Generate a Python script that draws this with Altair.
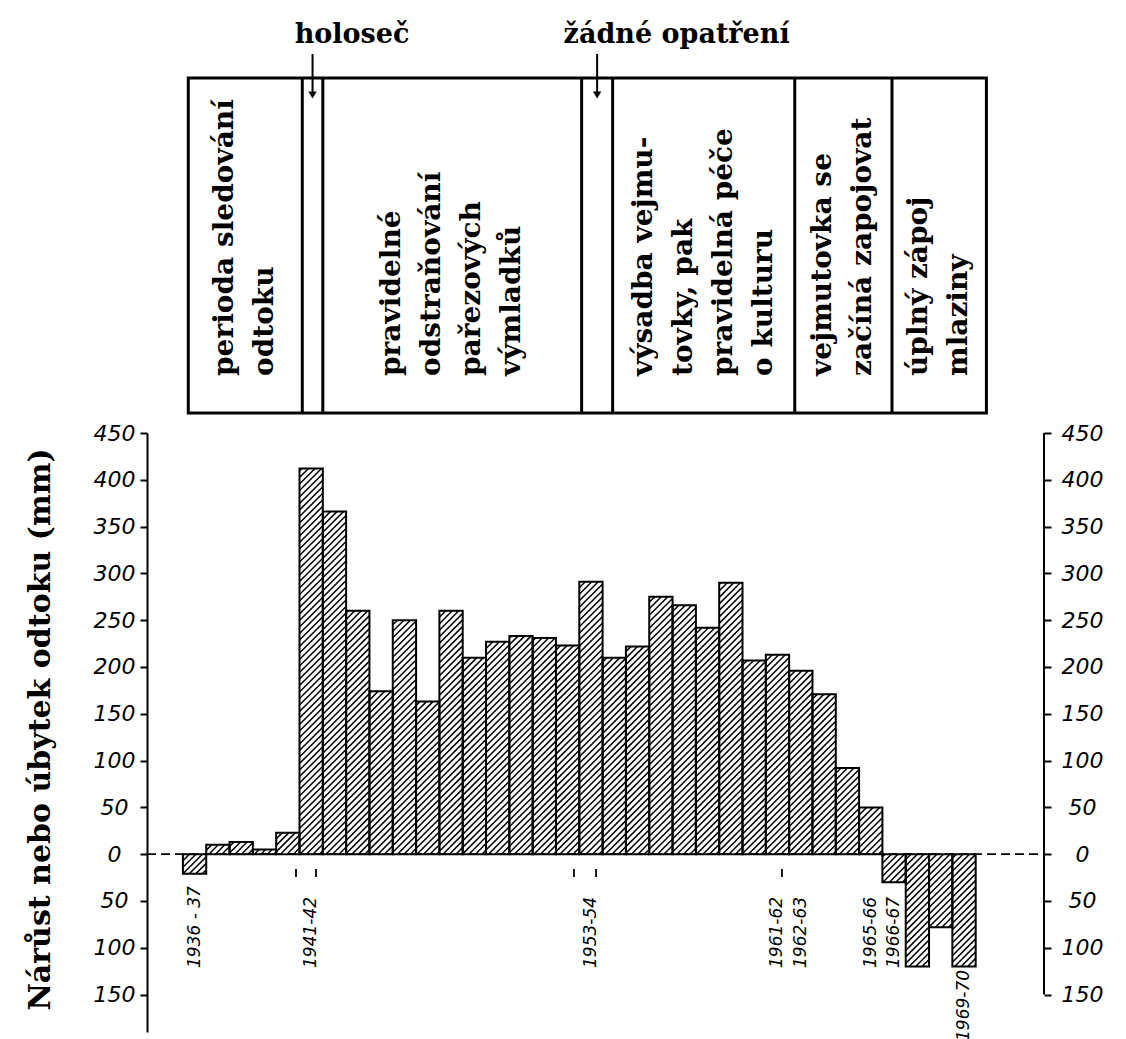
import math
import altair as alt
import numpy as np
import pandas as pd

# ---------------- data ----------------
years = ["1936-37", "1937-38", "1938-39", "1939-40", "1940-41", "1941-42",
         "1942-43", "1943-44", "1944-45", "1945-46", "1946-47", "1947-48",
         "1948-49", "1949-50", "1950-51", "1951-52", "1952-53", "1953-54",
         "1954-55", "1955-56", "1956-57", "1957-58", "1958-59", "1959-60",
         "1960-61", "1961-62", "1962-63", "1963-64", "1964-65", "1965-66",
         "1966-67", "1967-68", "1968-69", "1969-70"]
values = [-21, 10, 13, 5, 23, 412, 366, 260, 174, 250, 163, 260,
          210, 227, 233, 231, 223, 291, 210, 222, 275, 266, 242, 290,
          207, 213, 196, 171, 92, 50, -30, -120, -78, -120]

x_label_years = ["1936-37", "1941-42", "1953-54", "1961-62", "1962-63",
                 "1965-66", "1966-67"]
x_label_texts = ["1936 - 37", "1941-42", "1953-54", "1961-62", "1962-63",
                 "1965-66", "1966-67"]
last_label_year = "1969-70"
last_label_text = "1969-70"

tick_values = [-150, -100, -50, 0, 50, 100, 150, 200, 250, 300, 350, 400, 450]
y_title = "Nárůst nebo úbytek odtoku (mm)"

# period table (boundaries in bar units)
period_bounds = [0.23, 5.12, 6.0, 17.1, 18.43, 26.24, 30.41, 34.46]
period_lines = [
    ["perioda sledování", "odtoku"],
    [],
    ["pravidelné", "odstraňování", "pařezových", "výmladků"],
    [],
    ["výsadba vejmu-", "tovky, pak", "pravidelná péče", "o kulturu"],
    ["vejmutovka se", "začíná zapojovat"],
    ["úplný zápoj", "mlaziny"],
]
headings = ["holoseč", "žádné opatření"]
heading_periods = [1, 3]
marker_positions = [4.85, 5.71, 16.77, 17.72, 25.69]

# ---------------- layout constants ----------------
X_MIN, X_MAX = -1.54, 36.93
Y_MIN, Y_MAX = -190, 450
W, H = 897, 599
TOP_H = 404
pxu = W / (X_MAX - X_MIN)
pyu = H / (Y_MAX - Y_MIN)
LINE_PX = 40
heading_shift_px = [39.5, 79.5]

xs = alt.Scale(domain=[X_MIN, X_MAX], nice=False, zero=False)
ys = alt.Scale(domain=[Y_MIN, Y_MAX], nice=False, zero=False)

n = len(values)
bars = pd.DataFrame({"year": years, "x0": np.arange(n), "x1": np.arange(n) + 1,
                     "val": values, "zero": [0] * n})

# hatch segments derived from the bars
spacing, slope = 6.5, 1.0
segs = []
for i, v in enumerate(values):
    xa, xb = i * pxu, (i + 1) * pxu
    ya, yb = min(0, v) * pyu, max(0, v) * pyu
    kmin = math.ceil((ya - slope * xb) / spacing)
    kmax = math.floor((yb - slope * xa) / spacing)
    for k in range(kmin, kmax + 1):
        c = k * spacing
        s0 = max(xa, (ya - c) / slope)
        s1 = min(xb, (yb - c) / slope)
        if s1 - s0 > 0.3:
            segs.append({"hx": s0 / pxu, "hy": (slope * s0 + c) / pyu,
                         "hx2": s1 / pxu, "hy2": (slope * s1 + c) / pyu})
hatch = pd.DataFrame(segs)

idx = {y: i for i, y in enumerate(years)}
labels_df = pd.DataFrame({"t": x_label_texts,
                          "xc": [idx[y] + 0.5 for y in x_label_years]})
last_df = pd.DataFrame({"t": [last_label_text], "xc": [idx[last_label_year] + 0.5]})
markers_df = pd.DataFrame({"mx": marker_positions})
zero_df = pd.DataFrame({"x0": [X_MIN], "x1": [X_MAX], "y": [0]})
raxis_df = pd.DataFrame({"x": [X_MAX], "y0": [-150], "y1": [450]})

# ---------------- bottom panel ----------------
left_axis = alt.Axis(
    orient="left", values=tick_values, labelExpr="'' + abs(datum.value)",
    title=y_title, titleFont="DejaVu Serif", titleFontWeight="bold",
    titleFontSize=30, titleAngle=270, titleX=-107, titleY=296,
    titleAlign="center", titleBaseline="middle", titleColor="black",
    labelFont="DejaVu Sans", labelFontStyle="italic", labelFontSize=22,
    labelAlign="center", labelBaseline="middle", labelPadding=26,
    labelColor="black", labelOverlap=False,
    tickSize=7, tickWidth=2, tickColor="black",
    domainWidth=2, domainColor="black", grid=False)
right_axis = alt.Axis(
    orient="right", values=tick_values, labelExpr="'' + abs(datum.value)",
    title=None, labelFont="DejaVu Sans", labelFontStyle="italic",
    labelFontSize=22, labelAlign="center", labelBaseline="middle",
    labelPadding=31, labelColor="black", labelOverlap=False,
    tickSize=7, tickWidth=2, tickColor="black", domain=False, grid=False)

zero_line = alt.Chart(zero_df).mark_rule(
    strokeDash=[9, 5], strokeWidth=1.6, color="black").encode(
    x=alt.X("x0:Q", scale=xs, axis=None), x2="x1:Q",
    y=alt.Y("y:Q", scale=ys, axis=None))

hatch_layer = alt.Chart(hatch).mark_rule(strokeWidth=1.5, color="black").encode(
    x=alt.X("hx:Q", scale=xs, axis=None), x2="hx2:Q",
    y=alt.Y("hy:Q", scale=ys, axis=None), y2="hy2:Q")

bar_layer = alt.Chart(bars).mark_rect(
    fillOpacity=0, stroke="black", strokeWidth=2).encode(
    x=alt.X("x0:Q", scale=xs, axis=None), x2="x1:Q",
    y=alt.Y("val:Q", scale=ys, axis=left_axis), y2="zero:Q")

raxis_layer = alt.Chart(raxis_df).mark_rule(strokeWidth=2, color="black").encode(
    x=alt.X("x:Q", scale=xs, axis=None),
    y=alt.Y("y0:Q", scale=ys, axis=right_axis), y2="y1:Q")

label_style = dict(angle=270, align="left", baseline="middle",
                   font="DejaVu Sans", fontStyle="italic", fontSize=17,
                   color="black", dx=0)
xlabels = alt.Chart(labels_df).mark_text(**label_style).encode(
    x=alt.X("xc:Q", scale=xs, axis=None), y=alt.value(535), text="t:N")
xlabel_last = alt.Chart(last_df).mark_text(**label_style).encode(
    x=alt.X("xc:Q", scale=xs, axis=None), y=alt.value(608), text="t:N")
markers = alt.Chart(markers_df).mark_rule(strokeWidth=1.8, color="black").encode(
    x=alt.X("mx:Q", scale=xs, axis=None), y=alt.value(436), y2=alt.value(444))

bottom = alt.layer(zero_line, hatch_layer, bar_layer, raxis_layer,
                   xlabels, xlabel_last, markers).resolve_axis(
    y="independent").properties(width=W, height=H)

# ---------------- top panel (period table) ----------------
TAB_TOP, TAB_BOT = 67, 402
box_df = pd.DataFrame({"x0": [period_bounds[0]], "x1": [period_bounds[-1]]})
sep_df = pd.DataFrame({"bx": period_bounds[1:-1]})
rows = []
for p, lines in enumerate(period_lines):
    if not lines:
        continue
    center = (period_bounds[p] + period_bounds[p + 1]) / 2
    for j, t in enumerate(lines):
        rows.append({"t": t,
                     "tx": center + (j - (len(lines) - 1) / 2) * LINE_PX / pxu})
text_df = pd.DataFrame(rows)
arrow_x = [(period_bounds[p] + period_bounds[p + 1]) / 2 for p in heading_periods]
arrow_df = pd.DataFrame({"ax": arrow_x})
head_df = pd.DataFrame({"h": headings,
                        "hx": [a + s / pxu for a, s in zip(arrow_x, heading_shift_px)]})

box = alt.Chart(box_df).mark_rect(fillOpacity=0, stroke="black", strokeWidth=3).encode(
    x=alt.X("x0:Q", scale=xs, axis=None), x2="x1:Q",
    y=alt.value(TAB_TOP), y2=alt.value(TAB_BOT))
seps = alt.Chart(sep_df).mark_rule(strokeWidth=3, color="black").encode(
    x=alt.X("bx:Q", scale=xs, axis=None), y=alt.value(TAB_TOP), y2=alt.value(TAB_BOT))
texts = alt.Chart(text_df).mark_text(
    angle=270, align="left", baseline="middle", font="DejaVu Serif",
    fontWeight="bold", fontSize=28, color="black").encode(
    x=alt.X("tx:Q", scale=xs, axis=None), y=alt.value(365), text="t:N")
heads = alt.Chart(head_df).mark_text(
    align="center", baseline="alphabetic", font="DejaVu Serif",
    fontWeight="bold", fontSize=27, color="black").encode(
    x=alt.X("hx:Q", scale=xs, axis=None), y=alt.value(32), text="h:N")
arrow_lines = alt.Chart(arrow_df).mark_rule(strokeWidth=2, color="black").encode(
    x=alt.X("ax:Q", scale=xs, axis=None), y=alt.value(43), y2=alt.value(82))
arrow_heads = alt.Chart(arrow_df).mark_point(
    shape="triangle-down", filled=True, size=70, color="black", opacity=1).encode(
    x=alt.X("ax:Q", scale=xs, axis=None), y=alt.value(84))

top = alt.layer(box, seps, texts, heads, arrow_lines, arrow_heads).properties(
    width=W, height=TOP_H)

chart = alt.vconcat(top, bottom, spacing=18, bounds="flush").properties(
    padding={"left": 16, "top": 2, "right": 5, "bottom": 0}
).configure_view(stroke="transparent")

chart.save("out.html", embed_options={"renderer": "svg", "actions": False})
